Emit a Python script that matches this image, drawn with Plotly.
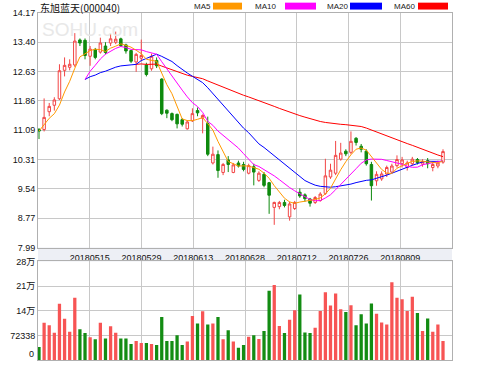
import plotly.graph_objects as go
import pandas as pd
import numpy as np

# ---------------- data ----------------
title_text = "东旭蓝天(000040)"
date_labels = ["20180515", "20180529", "20180613", "20180628", "20180712", "20180726", "20180809"]
price_tick_labels = ["7.99", "8.77", "9.54", "10.31", "11.09", "11.86", "12.63", "13.40", "14.17"]
vol_tick_labels = ["72338", "14万", "21万", "28万"]
ma_names = ["MA5", "MA10", "MA20", "MA60"]

open_ = [11.10, 11.10, 11.57, 11.74, 11.91, 12.66, 12.74, 12.80, 13.46, 13.45,
         13.03, 13.21, 13.14, 13.30, 13.38, 13.40, 13.49, 13.33, 13.18, 12.88,
         12.98, 12.80, 12.70, 12.92, 12.43, 11.61, 11.52, 11.50, 11.36, 11.12,
         11.33, 11.60, 11.40, 11.26, 10.22, 10.44, 9.97, 10.30, 9.97, 10.22,
         10.18, 9.95, 10.12, 9.76, 9.92, 9.70, 9.05, 9.07, 9.18, 8.80,
         9.02, 9.45, 9.38, 9.27, 9.18, 9.23, 9.42, 9.85, 9.95, 10.32,
         10.53, 10.50, 10.87, 10.66, 10.53, 10.18, 9.75, 9.80, 9.93, 9.98,
         10.15, 10.20, 10.10, 10.20, 10.31, 10.19, 10.28, 10.10, 10.14, 10.24]
high = [11.14, 11.92, 11.80, 11.95, 12.82, 13.00, 12.95, 13.64, 13.50, 13.50,
        13.30, 13.25, 13.52, 13.40, 13.62, 13.68, 13.52, 13.36, 13.20, 13.12,
        13.47, 12.86, 13.10, 13.00, 12.45, 11.63, 11.55, 11.52, 11.40, 11.35,
        11.66, 11.68, 11.50, 11.44, 10.65, 10.55, 10.22, 10.40, 10.22, 10.28,
        10.25, 10.20, 10.20, 10.00, 9.98, 9.72, 9.20, 9.22, 9.25, 9.20,
        9.22, 9.55, 9.42, 9.30, 9.35, 9.45, 10.33, 10.20, 10.80, 10.75,
        10.58, 11.05, 10.90, 10.72, 10.58, 10.25, 10.00, 10.00, 10.15, 10.20,
        10.42, 10.38, 10.28, 10.38, 10.35, 10.32, 10.35, 10.25, 10.28, 10.58]
low = [10.85, 11.05, 11.45, 11.60, 11.88, 12.50, 12.66, 12.75, 13.30, 12.95,
       12.78, 12.95, 13.10, 13.08, 13.30, 13.35, 13.28, 13.10, 12.85, 12.62,
       12.90, 12.50, 12.65, 12.72, 11.48, 11.40, 11.32, 11.13, 11.18, 11.10,
       11.30, 11.45, 11.00, 10.40, 10.18, 9.83, 9.90, 9.98, 9.95, 10.10,
       10.00, 9.92, 9.63, 9.72, 9.58, 8.88, 8.59, 9.00, 9.05, 8.70,
       8.98, 9.30, 9.20, 9.07, 9.14, 9.20, 9.38, 9.80, 9.90, 10.28,
       10.40, 10.45, 10.68, 10.50, 10.15, 9.23, 9.62, 9.75, 9.85, 9.95,
       10.10, 10.10, 10.02, 10.15, 10.18, 10.12, 10.08, 10.00, 10.08, 10.20]
close = [11.06, 11.42, 11.71, 11.88, 12.65, 12.79, 12.82, 13.43, 13.38, 13.05,
         13.22, 13.00, 13.38, 13.13, 13.49, 13.48, 13.31, 13.17, 12.90, 13.08,
         13.05, 12.55, 13.03, 12.78, 11.52, 11.53, 11.36, 11.25, 11.24, 11.30,
         11.52, 11.54, 11.47, 10.45, 10.45, 10.02, 10.18, 10.18, 10.17, 10.14,
         10.05, 10.15, 9.98, 9.95, 9.63, 9.37, 9.18, 9.18, 9.10, 9.14,
         9.18, 9.35, 9.28, 9.16, 9.31, 9.40, 9.88, 10.03, 10.42, 10.48,
         10.46, 10.79, 10.76, 10.58, 10.20, 9.62, 9.92, 9.93, 10.10, 10.14,
         10.31, 10.30, 10.22, 10.32, 10.23, 10.26, 10.20, 10.18, 10.22, 10.52]
volume = [38000, 109000, 102000, 80000, 165000, 121000, 83000, 183000, 90000, 79000,
          67000, 61000, 109000, 63000, 99000, 80000, 63000, 63000, 47000, 56000,
          50000, 50000, 47000, 44000, 126000, 56000, 56000, 73000, 44000, 54000,
          129000, 107000, 143000, 104000, 107000, 126000, 61000, 87000, 54000, 36000,
          44000, 68000, 73000, 62000, 85000, 203000, 220000, 100000, 79000, 118000,
          146000, 192000, 81000, 79000, 95000, 144000, 199000, 160000, 195000, 149000,
          141000, 161000, 102000, 134000, 107000, 166000, 136000, 110000, 104000, 228000,
          183000, 178000, 144000, 186000, 138000, 85000, 122000, 83000, 104000, 56000]
vol_step = 72338

# ---------------- derived ----------------
idx = list(range(len(close)))
cs = pd.Series(close)
ma_values = [
    cs.rolling(5, min_periods=1).mean(),
    cs.rolling(10, min_periods=10).mean(),
    cs.rolling(20, min_periods=10).mean(),
    cs.rolling(60, min_periods=20).mean(),
]
ma_colors = ["#ff9900", "#ff00ff", "#0000ff", "#ff0000"]

RED = "#f24646"
GREEN = "#0e8a0e"
VRED = "#f75454"
VGREEN = "#138c13"
GRID = "#c8c8c8"
AXL = "#b0b0b0"

W, H = 499, 366
L, R, T, B = 38, 47, 13, 1
PH = H - T - B  # plot height in px


def py(ypx):
    return (H - B - ypx) / PH


def px(xpx):
    return (xpx - L) / (W - L - R)


# x range so that candles sit where the reference puts them
step_px = 5.114
x0 = -(39 - L) / step_px
x1 = x0 + (W - L - R) / step_px
grid_x = [x0 + k * (x1 - x0) / 8 for k in range(1, 8)]

pmin, pmax = 7.99, 14.17
price_tickvals = list(np.linspace(pmin, pmax, len(price_tick_labels)))

fig = go.Figure()

fig.add_trace(go.Candlestick(
    x=idx, open=open_, high=high, low=low, close=close,
    xaxis="x", yaxis="y",
    increasing=dict(line=dict(color=RED, width=1), fillcolor="white"),
    decreasing=dict(line=dict(color=GREEN, width=1), fillcolor=GREEN),
    whiskerwidth=0, showlegend=False, hoverinfo="skip",
))

for name, vals, col in reversed(list(zip(ma_names, ma_values, ma_colors))):
    fig.add_trace(go.Scatter(
        x=idx, y=vals, mode="lines", name=name,
        line=dict(color=col, width=1), xaxis="x", yaxis="y",
        showlegend=False, hoverinfo="skip",
    ))

bar_colors = [VRED if c >= o else VGREEN for o, c in zip(open_, close)]
fig.add_trace(go.Bar(
    x=idx, y=volume, marker=dict(color=bar_colors, line=dict(width=0)),
    xaxis="x2", yaxis="y2", showlegend=False, hoverinfo="skip",
))

tickfont = dict(family="Liberation Sans, Noto Sans CJK SC", size=9, color="#111111")

fig.update_layout(
    width=W, height=H,
    margin=dict(l=L, r=R, t=T, b=B, pad=0),
    paper_bgcolor="white", plot_bgcolor="white",
    font=dict(family="Liberation Sans, Noto Sans CJK SC", size=9, color="#111111"),
    bargap=0.36,
    xaxis=dict(
        anchor="y", range=[x0, x1], tickmode="array", tickvals=grid_x, ticktext=date_labels,
        showgrid=True, gridcolor=GRID, gridwidth=1, showline=True, mirror=True,
        linecolor=AXL, linewidth=1, ticks="", tickfont=tickfont, zeroline=False,
        ticklabelstandoff=2,
        rangeslider=dict(visible=False), fixedrange=True,
    ),
    xaxis2=dict(
        anchor="y2", matches="x", range=[x0, x1], tickmode="array", tickvals=grid_x,
        showticklabels=False, showgrid=True, gridcolor=GRID, gridwidth=1,
        showline=True, mirror=True, linecolor=AXL, linewidth=1, ticks="", zeroline=False,
        fixedrange=True,
    ),
    yaxis=dict(
        domain=[py(251), 1], range=[pmin, pmax], tickmode="array",
        tickvals=price_tickvals, ticktext=price_tick_labels, showgrid=True, gridcolor=GRID,
        showline=True, mirror=True, linecolor=AXL, linewidth=1, ticks="", zeroline=False,
        tickfont=tickfont, fixedrange=True,
    ),
    yaxis2=dict(
        domain=[0, py(265)], range=[0, vol_step * 4], tickmode="array",
        tickvals=[vol_step * k for k in range(1, 5)], ticktext=vol_tick_labels,
        showgrid=True, gridcolor=GRID, showline=True, mirror=True, linecolor=AXL,
        linewidth=1, ticks="", zeroline=False, tickfont=tickfont, fixedrange=True,
    ),
)

shapes = [
    dict(type="rect", xref="paper", yref="paper", x0=0, x1=1, y0=py(265), y1=py(251),
         fillcolor="#edeff5", line=dict(width=0), layer="below"),
]
annotations = [
    dict(text="SOHU.com", xref="paper", yref="paper", x=px(40), y=py(29.5),
         xanchor="left", yanchor="middle", showarrow=False,
         font=dict(family="Liberation Sans", size=19, color="#e8e8e8")),
    dict(text=title_text, xref="paper", yref="paper", x=0, y=py(7),
         xanchor="left", yanchor="middle", showarrow=False,
         font=dict(family="Noto Sans CJK SC", size=10, color="#111111")),
    dict(text="0", xref="paper", yref="paper", x=px(36), y=py(359),
         xanchor="right", yanchor="middle", showarrow=False, font=tickfont),
]
leg_text_x = [192, 253, 325, 392]
leg_rect_x = [(213, 242), (285, 316), (350, 382), (418, 448)]
for name, col, tx, (ra, rb) in zip(ma_names, ma_colors, leg_text_x, leg_rect_x):
    annotations.append(dict(text=name, xref="paper", yref="paper", x=px(tx), y=py(6.5),
                            xanchor="left", yanchor="middle", showarrow=False,
                            font=dict(family="Liberation Sans", size=8, color="#222222")))
    shapes.append(dict(type="rect", xref="paper", yref="paper", x0=px(ra), x1=px(rb),
                       y0=py(9.5), y1=py(2.5), fillcolor=col, line=dict(width=0)))

fig.update_layout(shapes=shapes, annotations=annotations)

fig.write_html(
    "out.html",
    config={"displayModeBar": False, "staticPlot": True},
    post_script="document.body.style.margin='0';document.body.style.overflow='hidden';",
)
